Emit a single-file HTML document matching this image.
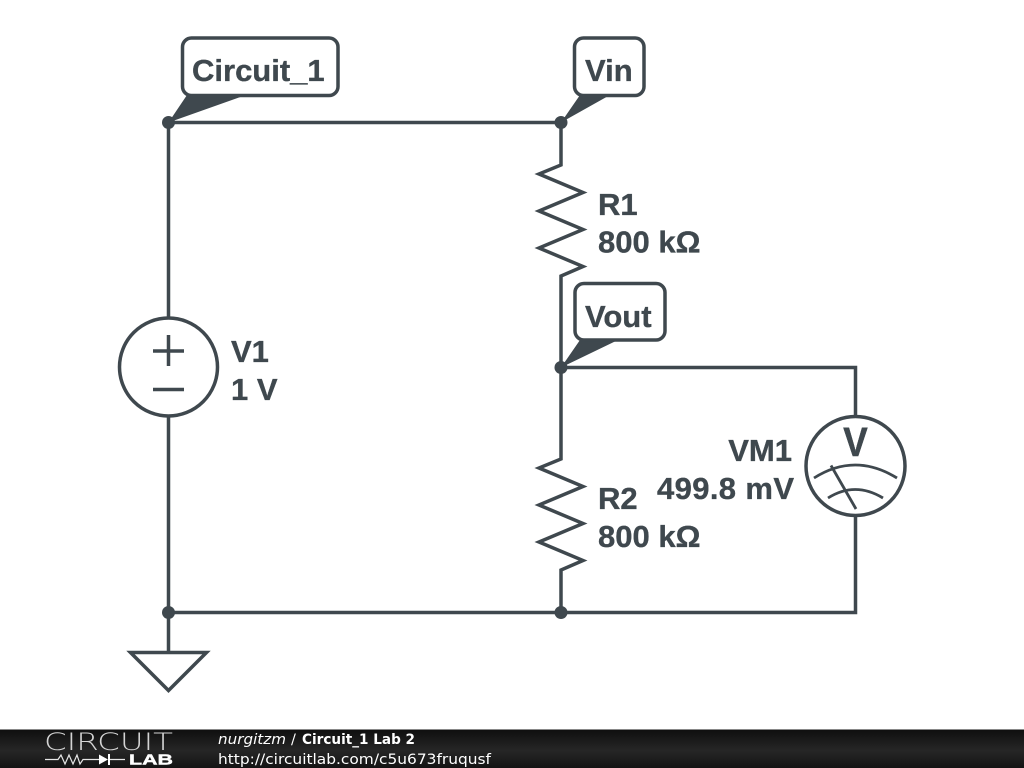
<!DOCTYPE html>
<html><head><meta charset="utf-8"><style>
html,body{margin:0;padding:0;background:#fff;width:1024px;height:768px;overflow:hidden}
svg{display:block}
.w{fill:none;stroke:#3f484e;stroke-width:3.5;stroke-linejoin:miter}
.t{font-family:"Liberation Sans",sans-serif;font-weight:700;font-size:31px;fill:#3f484e;stroke:#3f484e;stroke-width:.35}
.f{font-family:"DejaVu Sans",sans-serif;font-size:14.5px;fill:#fff}
</style></head><body>
<svg width="1024" height="768" viewBox="0 0 1024 768" xmlns="http://www.w3.org/2000/svg">
<defs><linearGradient id="g" x1="0" y1="0" x2="0" y2="1"><stop offset="0" stop-color="#0e0e0e"/><stop offset="0.55" stop-color="#262626"/><stop offset="1" stop-color="#141414"/></linearGradient></defs>
<rect width="1024" height="768" fill="#fff"/>
<path class="w" d="M168.500 122.500H561M168.500 122.500V318M168.500 416V652M168.500 612.500H855.500V516M855.500 416V367.500H561M561 122.500V165L539 174L583 192.500L539 211L583 229.500L539 248L583 266.500L561 276V459L539 468L583 486.500L539 505L583 523.500L539 542L583 560.500L561 570V612.500"/>
<path d="M130.500 652.500H206.500L168.500 690.500Z" fill="#fff" stroke="#3f484e" stroke-width="3.500" stroke-linejoin="miter"/>
<circle class="w" cx="168.500" cy="367" r="49"/>
<path class="w" d="M153 351H184M168.500 335V366M153 389.500H184"/>
<circle class="w" cx="855.500" cy="466" r="49.500"/>
<path class="w" style="stroke-width:2.800" d="M814 478Q855 452 897 478M828 498Q855 481 883 498M831 465.500L856 509"/>
<text class="t" x="855.500" y="456" text-anchor="middle" style="font-size:37px" transform="translate(855.5 456) scale(1 1.1) translate(-855.5 -456)">V</text>
<g fill="#3f484e"><path d="M168.500 122.500L187 95L190 90H256L246 95Z"/><path d="M561 122.500L580 95H585V90H620L610 95Z"/><path d="M561 367.500L580 340H585V335H630L618 340Z"/>
<circle cx="168.500" cy="122.500" r="6.500"/><circle cx="561" cy="122.500" r="6.500"/><circle cx="561" cy="367.500" r="6.500"/><circle cx="168.500" cy="612.500" r="6.500"/><circle cx="561" cy="612.500" r="6.500"/></g>
<g fill="#fff" stroke="#3f484e" stroke-width="3.500"><rect x="182.500" y="38" width="155.500" height="57.500" rx="9"/><rect x="574.500" y="38" width="69.500" height="57.500" rx="9"/><rect x="575" y="283.500" width="90" height="56.500" rx="9"/></g>
<text class="t" x="192" y="81">Circuit_1</text>
<text class="t" x="585" y="81">Vin</text>
<text class="t" x="585" y="327">Vout</text>
<text class="t" x="598" y="215">R1</text>
<text class="t" x="598" y="252.500">800 kΩ</text>
<text class="t" x="598" y="509">R2</text>
<text class="t" x="598" y="547">800 kΩ</text>
<text class="t" x="231" y="362">V1</text>
<text class="t" x="231" y="400">1 V</text>
<text class="t" x="792" y="461" text-anchor="end">VM1</text>
<text class="t" x="794" y="499" text-anchor="end" textLength="137" lengthAdjust="spacing">499.8 mV</text>
<rect x="0" y="729" width="1024" height="39" fill="url(#g)"/>
<rect x="0" y="729" width="1024" height="1" fill="#888"/>
<text x="44" y="750" font-family="DejaVu Sans,sans-serif" font-weight="200" font-size="24" fill="#d4d4d4" textLength="129" lengthAdjust="spacingAndGlyphs">CIRCUIT</text>
<path d="M45 759.500H58L61 755L65 764L69 755L73 764L77 755L80 764L83 759.500H99M110 759.500H125" fill="none" stroke="#e6e6e6" stroke-width="1.200"/>
<path d="M99 754.500V764.500L108 759.500Z" fill="#fff"/><rect x="108" y="754" width="2" height="11" fill="#fff"/>
<text x="129" y="764.500" font-family="Liberation Sans,sans-serif" font-weight="700" font-size="14.500" fill="#fff" stroke="#fff" stroke-width=".4" textLength="44" lengthAdjust="spacingAndGlyphs">LAB</text>
<text class="f" x="218" y="744" font-style="italic" textLength="68" lengthAdjust="spacingAndGlyphs">nurgitzm</text>
<text class="f" x="291" y="744">/</text>
<text class="f" x="302" y="744" font-weight="700" textLength="113" lengthAdjust="spacingAndGlyphs">Circuit_1 Lab 2</text>
<text class="f" x="218" y="764" textLength="273" lengthAdjust="spacingAndGlyphs">http://circuitlab.com/c5u673fruqusf</text>
</svg>
</body></html>
